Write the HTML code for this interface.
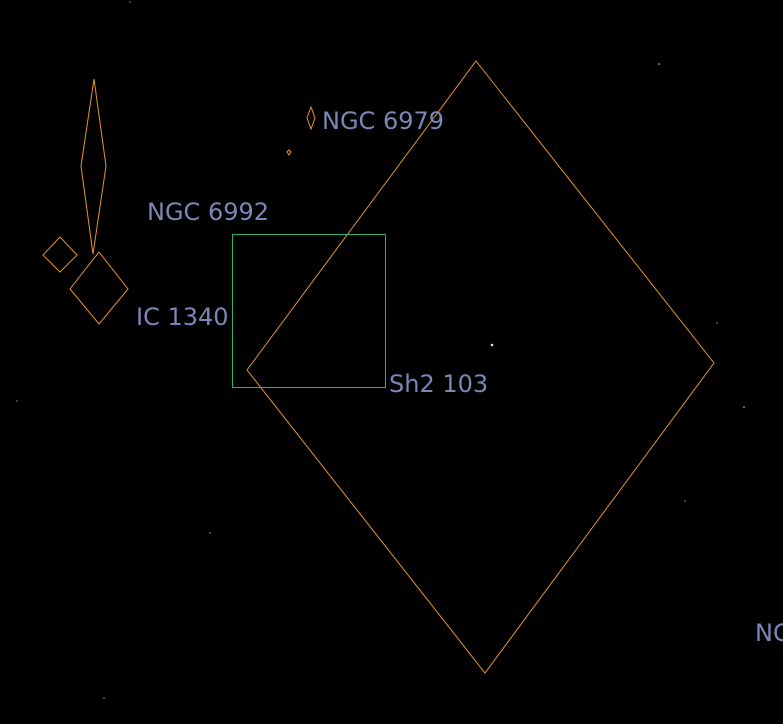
<!DOCTYPE html>
<html><head><meta charset="utf-8"><style>
html,body{margin:0;padding:0;background:#000;width:783px;height:724px;overflow:hidden}
svg{display:block}
text{font-family:"DejaVu Sans","Liberation Sans",sans-serif;font-size:24px;fill:#7c86b6}
</style></head><body>
<svg width="783" height="724">
<g fill="#ddd">
<circle cx="492" cy="345" r="1.3"/><circle cx="659" cy="64" r="0.8"/><circle cx="744" cy="407" r="0.8"/>
<circle cx="685" cy="501" r="0.6"/><circle cx="210" cy="533" r="0.6"/><circle cx="17" cy="401" r="0.6"/>
<circle cx="130" cy="2" r="0.6"/><circle cx="104" cy="698" r="0.6"/><circle cx="717" cy="323" r="0.6"/>
</g>
<g fill="none" stroke="#e8922a" stroke-width="1">
<polygon points="476,61 714,363 485,673 247,370"/>
<polygon points="94,79 106,166 93,254 81,166"/>
<polygon points="60,237 77,255 60,272 43,255"/>
<polygon points="99,252 128,289 99,324 70,289"/>
<polygon points="311,107 315,118 311,129 307,118"/>
<polygon points="289,150 291,152 289,155 287,152"/>
</g>
<rect x="232.5" y="234.5" width="153" height="153" fill="none" stroke="#2fb070" stroke-width="1"/>
<text x="322" y="129">NGC 6979</text>
<text x="147" y="220">NGC 6992</text>
<text x="136" y="325">IC 1340</text>
<text x="389" y="392">Sh2 103</text>
<text x="755" y="641">NGC</text>
</svg>
</body></html>
